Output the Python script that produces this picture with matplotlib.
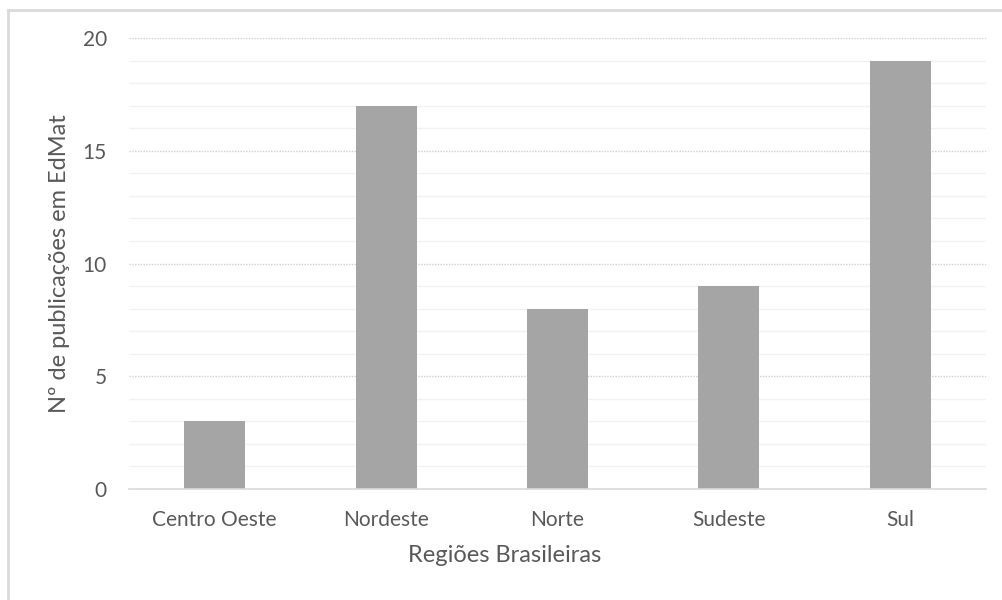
import matplotlib
matplotlib.use("Agg")
import matplotlib.pyplot as plt
from matplotlib.patches import Rectangle
from matplotlib.ticker import MultipleLocator

categories = ["Centro Oeste", "Nordeste", "Norte", "Sudeste", "Sul"]
values = [3, 17, 8, 9, 19]
y_ticks = [0, 5, 10, 15, 20]

plt.rcParams['font.family'] = ['Lato', 'DejaVu Sans']
txt = '#595959'

fig = plt.figure(figsize=(10.03, 6.0), dpi=100)
W, H = 1003, 600
ax_l, ax_r, ax_t, ax_b = 129, 986, 38, 489
ax = fig.add_axes([ax_l / W, 1 - ax_b / H, (ax_r - ax_l) / W, (ax_b - ax_t) / H])

x = list(range(len(categories)))
ax.bar(x, values, width=0.356, color='#A5A5A5', zorder=3)
ax.set_xlim(-0.5, len(categories) - 0.5)
ax.set_ylim(0, 20)
ax.set_yticks(y_ticks)
ax.yaxis.set_minor_locator(MultipleLocator(1))
ax.grid(axis='y', which='minor', color='#F2F2F2', lw=1.0, ls='-', zorder=0)
ax.grid(axis='y', which='major', color='#D0D0D0', lw=1.0, ls=(0, (1, 1)), zorder=1)
ax.set_xticks(x)
ax.set_xticklabels(categories)
for s in ['top', 'right', 'left']:
    ax.spines[s].set_visible(False)
ax.spines['bottom'].set_color('#D9D9D9')
ax.spines['bottom'].set_linewidth(1.2)
ax.spines['bottom'].set_zorder(4)
ax.tick_params(axis='both', which='both', length=0, colors=txt, labelsize=15)
ax.tick_params(axis='y', pad=16)
ax.tick_params(axis='x', pad=15)
ax.set_xlabel("Regiões Brasileiras", color=txt, fontsize=17, va='center')
ax.xaxis.set_label_coords((505 - ax_l) / (ax_r - ax_l), (ax_b - 555) / (ax_b - ax_t))
ax.set_ylabel("Nº de publicações em EdMat", color=txt, fontsize=17, labelpad=9)

fig.patches.append(Rectangle((8 / W, -0.1), 1.2, 1 - 10 / H + 0.1, transform=fig.transFigure,
                             fill=False, edgecolor='#D9D9D9', lw=2))

fig.savefig("out.png", dpi=100, facecolor='white')
